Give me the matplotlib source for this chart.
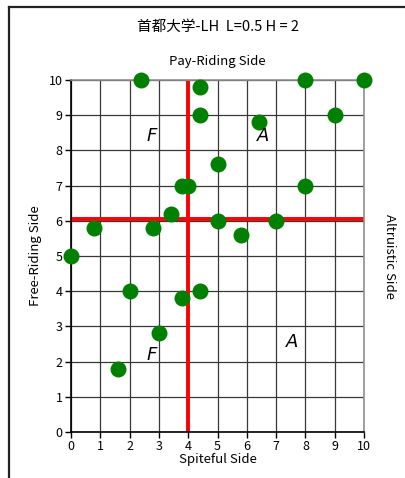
import matplotlib
matplotlib.use("Agg")
import matplotlib.pyplot as plt
from matplotlib.lines import Line2D

plt.rcParams['font.family'] = ['Noto Sans CJK JP', 'DejaVu Sans']

# data
x_vals = [0, 0.8, 1.6, 2, 2.4, 2.8, 3, 3.4, 3.8, 3.8, 4, 4.4, 4.4, 4.4, 5, 5, 5.8, 6.4, 7, 8, 8, 9, 10]
y_vals = [5, 5.8, 1.8, 4, 10, 5.8, 2.8, 6.2, 7, 3.8, 7, 9.8, 9, 4, 7.6, 6, 5.6, 8.8, 6, 10, 7, 9, 10]
threshold_x = 4.0
threshold_y = 6.05
ticks = list(range(0, 11))
title = "首都大学-LH  L=0.5 H = 2"
region_labels = ["F", "A", "F", "A"]
region_x = [2.75, 6.55, 2.75, 7.55]
region_y = [8.4, 8.4, 2.2, 2.55]

fig = plt.figure(figsize=(4.06, 4.78), dpi=100)
ax = fig.add_axes([71/406, 46/478, 293/406, 352/478])

ax.set_xlim(0, 10)
ax.set_ylim(0, 10)
ax.set_xticks(ticks)
ax.set_yticks(ticks)
ax.grid(True, color='#383838', linewidth=0.9)
ax.set_axisbelow(True)

ax.plot([threshold_x, threshold_x], [0, 10], color='#ff0000', lw=2.8, zorder=2, solid_capstyle='butt')
ax.plot([0, 10], [threshold_y, threshold_y], color='#ff0000', lw=2.8, zorder=2, solid_capstyle='butt')

ax.plot(x_vals, y_vals, 'o', color='#008000', markersize=11.5, markeredgewidth=0, zorder=3, clip_on=False)

for lab, lx, ly in zip(region_labels, region_x, region_y):
    ax.text(lx, ly, lab, fontsize=13, style='italic', family='DejaVu Sans', ha='center', va='center', zorder=4)

for s in ['top', 'right']:
    ax.spines[s].set_color('#909090')
    ax.spines[s].set_linewidth(1.2)
for s in ['left', 'bottom']:
    ax.spines[s].set_color('black')
    ax.spines[s].set_linewidth(1.2)

ax.tick_params(direction='out', length=4, width=1, labelsize=9, colors='black', pad=2)

ax.set_xlabel("Spiteful Side", fontsize=9.5, labelpad=0)
ax.set_ylabel("Free-Riding Side", fontsize=9.5, labelpad=5)

fig.text(217/406, 1 - 62/478, "Pay-Riding Side", fontsize=9.5, ha='center', va='center')
fig.text(390/406, 1 - 256/478, "Altruistic Side", fontsize=9.5, ha='center', va='center', rotation=270)
fig.text(218/406, 1 - 27/478, title, fontsize=10.5, ha='center', va='center')

# outer frame (partially visible)
fig.add_artist(Line2D([9/406, 1], [1 - 6.5/478, 1 - 6.5/478], color='#222222', lw=1.6, transform=fig.transFigure))
fig.add_artist(Line2D([9/406, 9/406], [0, 1 - 6.5/478], color='#222222', lw=1.6, transform=fig.transFigure))

fig.savefig("out.png", dpi=100)
